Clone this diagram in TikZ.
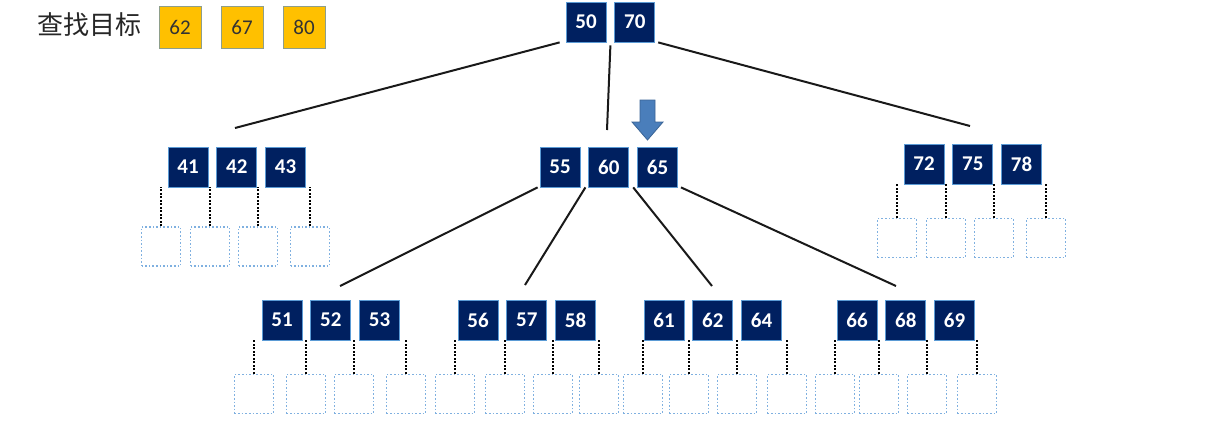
\documentclass[tikz,border=0pt]{standalone}
\usepackage{fontspec}
\setmainfont{Carlito}
\newfontfamily\cjk{Noto Sans CJK SC}
\usepackage{xcolor}
\usepackage{tikz}
\usetikzlibrary{positioning}

\definecolor{keyfill}{HTML}{002060}
\definecolor{keyedge}{HTML}{5B9BD5}
\definecolor{leafedge}{HTML}{7FB0E0}
\definecolor{goldfill}{HTML}{FFC000}
\definecolor{goldedge}{HTML}{8E9E8A}
\definecolor{arrowfill}{HTML}{4A7EBB}
\definecolor{arrowedge}{HTML}{3A6496}

\begin{document}
\begin{tikzpicture}[x=1pt, y=-1pt,
  key/.style={draw=keyedge, fill=keyfill, text=white, line width=0.8pt,
              minimum size=40pt, inner sep=0pt,
              font=\fontsize{21}{23}\selectfont\bfseries},
  leaf/.style={draw=leafedge, dotted, line width=1.6pt,
               minimum size=39pt, inner sep=0pt},
  goal/.style={draw=goldedge, fill=goldfill, text=black!80, line width=0.8pt,
               minimum size=42pt, inner sep=0pt,
               font=\fontsize{21}{23}\selectfont},
  branch/.style={line width=2pt, black!90},
  ptr/.style={line width=2.6pt, dash pattern=on 2pt off 1.5pt}]

  \useasboundingbox (0,0) rectangle (1228,424);

  % search targets
  \node[font=\fontsize{26}{28}\selectfont\cjk, text=black!85] (title) at (89,25) {查找目标};
  \node[goal] (g62) at (180,27) {62};
  \node[goal] (g67) at (242,27) {67};
  \node[goal] (g80) at (304,27) {80};

  % root
  \node[key] (k50) at (586,22) {50};
  \node[key, right=8pt of k50] (k70) {70};

  % second level
  \node[key] (k41) at (188,167) {41};
  \node[key, right=8pt of k41] (k42) {42};
  \node[key, right=8pt of k42] (k43) {43};

  \node[key] (k55) at (560,167) {55};
  \node[key, right=8pt of k55] (k60) {60};
  \node[key, right=8pt of k60] (k65) {65};

  \node[key] (k72) at (924,164) {72};
  \node[key, right=8pt of k72] (k75) {75};
  \node[key, right=8pt of k75] (k78) {78};

  % third level
  \node[key] (k51) at (282,320) {51};
  \node[key, right=8pt of k51] (k52) {52};
  \node[key, right=8pt of k52] (k53) {53};

  \node[key] (k56) at (478,320) {56};
  \node[key, right=8pt of k56] (k57) {57};
  \node[key, right=8pt of k57] (k58) {58};

  \node[key] (k61) at (664,320) {61};
  \node[key, right=8pt of k61] (k62) {62};
  \node[key, right=8pt of k62] (k64) {64};

  \node[key] (k66) at (857,320) {66};
  \node[key, right=8pt of k66] (k68) {68};
  \node[key, right=8pt of k68] (k69) {69};

  % branch ends
  \coordinate (toA) at (235,128);
  \coordinate (toB) at (607,130);
  \coordinate (toC) at (970,126);
  \coordinate (toD) at (340,286);
  \coordinate (toE) at (525,285);
  \coordinate (toF) at (712,286);
  \coordinate (toG) at (896,286);

  \draw[branch] ([xshift=-6pt]k50.south west) -- (toA);
  \draw[branch] ([xshift=4pt,yshift=-3pt]k50.south east) -- (toB);
  \draw[branch] ([xshift=3pt]k70.south east) -- (toC);
  \draw[branch] ([xshift=-2pt]k55.south west) -- (toD);
  \draw[branch] ([xshift=5pt]k55.south east) -- (toE);
  \draw[branch] ([xshift=4pt]k60.south east) -- (toF);
  \draw[branch] ([xshift=3pt]k65.south east) -- (toG);

  % leaf pointers
  \foreach \x [count=\i] in {161,210,258,310} {
    \node[leaf] (la\i) at (\x,246.5) {};
    \draw[ptr] (la\i.north) -- (la\i.north |- k41.south);
  }
  \foreach \x [count=\i] in {897,946,994,1046} {
    \node[leaf] (lc\i) at (\x,238) {};
    \draw[ptr] (lc\i.north) -- (lc\i.north |- k72.south);
  }
  \foreach \x [count=\i] in {254,306,354,406} {
    \node[leaf] (ld\i) at (\x,394) {};
    \draw[ptr] (ld\i.north) -- (ld\i.north |- k51.south);
  }
  \foreach \x [count=\i] in {455,505,553,599} {
    \node[leaf] (le\i) at (\x,394) {};
    \draw[ptr] (le\i.north) -- (le\i.north |- k56.south);
  }
  \foreach \x [count=\i] in {643,689,737,787} {
    \node[leaf] (lf\i) at (\x,394) {};
    \draw[ptr] (lf\i.north) -- (lf\i.north |- k61.south);
  }
  \foreach \x [count=\i] in {835,879,927,977} {
    \node[leaf] (lg\i) at (\x,394) {};
    \draw[ptr] (lg\i.north) -- (lg\i.north |- k66.south);
  }

  % block arrow
  \draw[fill=arrowfill, draw=arrowedge, line width=0.8pt]
    (640,100) -- (655,100) -- (655,122) -- (663,122) -- (647.5,140)
    -- (632,122) -- (640,122) -- cycle;
\end{tikzpicture}
\end{document}
